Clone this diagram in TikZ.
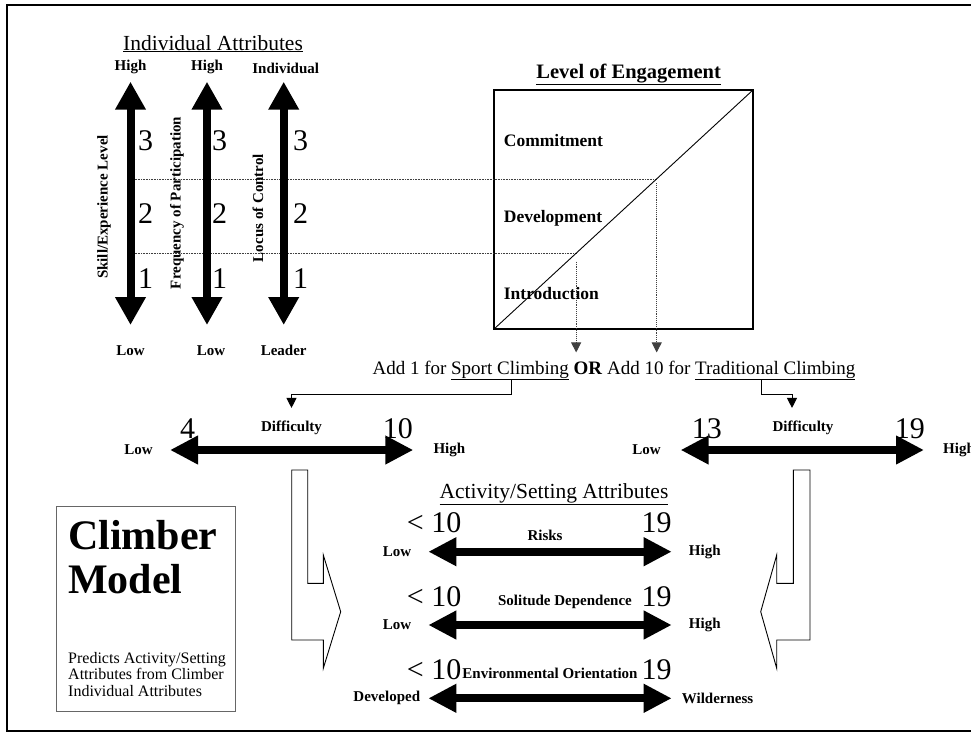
\documentclass[tikz,border=0pt]{standalone}
\usepackage{fontspec}
\setmainfont{Liberation Serif}
\usetikzlibrary{arrows.meta,positioning,calc}

\begin{document}
\begin{tikzpicture}[x=1pt, y=-1pt,
		every node/.style={inner sep=0pt},
		title/.style={
			font=\fontsize{21.5}{24}\selectfont,
			anchor=base},
		lbl/.style={
			font=\fontsize{15}{17}\selectfont\bfseries},
		stage/.style={
			font=\fontsize{17.5}{20}\selectfont\bfseries,
			anchor=base west},
		num/.style={
			font=\fontsize{30}{32}\selectfont},
		scalearrow/.style={
			line width=8pt,
			>={Triangle[length=28pt,width=27pt]}, <->},
		vscale/.style={
			line width=8pt,
			>={Triangle[length=28pt,width=29pt]}, <->},
		guide/.style={
			densely dotted,
			line width=0.6pt,
			black!75},
		conn/.style={
			line width=0.9pt,
			>={Triangle[length=10pt,width=10pt]}, ->},
		hollow/.style={
			draw,
			line width=0.9pt,
			fill=white}]

		\useasboundingbox (0,0) rectangle (971,736);
		\draw [line width=1.5pt] (7,5) rectangle (990,731);

		% individual attributes
		\node (indattr) [title] at (213,50) {\underline{Individual Attributes}};

		\coordinate (skillT) at (130.5,81.7);
		\coordinate (skillB) at (130.5,325);
		\coordinate (freqT) at (207,81.7);
		\coordinate (freqB) at (207,325);
		\coordinate (locusT) at (283.7,81.7);
		\coordinate (locusB) at (283.7,325);

		\node (eng) [draw, line width=1.2pt, minimum width=259pt, minimum height=239pt] at (623.5,209.5) {};
		\coordinate (engHi) at ($(eng.south west)!0.6276!(eng.north east)$);
		\coordinate (engLo) at ($(eng.south west)!0.318!(eng.north east)$);

		\draw [guide] ($(skillT |- engHi)+(4,0)$) -- (engHi);
		\draw [guide] ($(skillT |- engLo)+(4,0)$) -- (engLo);

		\draw [vscale] (skillT) -- (skillB);
		\draw [vscale] (freqT) -- (freqB);
		\draw [vscale] (locusT) -- (locusB);

		\node (skillHi) [lbl, above=8pt of skillT] {High};
		\node (freqHi) [lbl, above=8pt of freqT] {High};
		\node (locusHi) [lbl, above=8pt of locusT, xshift=2pt] {Individual};
		\node (skillLo) [lbl, below=20pt of skillB] {Low};
		\node (freqLo) [lbl, below=20pt of freqB, xshift=4pt] {Low};
		\node (locusLo) [lbl, below=20pt of locusB] {Leader};

		\node (skill) [lbl, rotate=90] at (104,207) {Skill/Experience Level};
		\node (freq) [lbl, rotate=90] at (177,203) {Frequency of Participation};
		\node (locus) [lbl, rotate=90] at (258,208) {Locus of Control};

		\foreach \col/\x in {skill/138, freq/212, locus/293}
			\foreach \n/\y in {3/150, 2/223, 1/288}
				\node (\col\n) [num, anchor=base west] at (\x,\y) {\n};

		% level of engagement
		\node (engtitle) [font=\fontsize{20.5}{23}\selectfont\bfseries, anchor=base] at (628.7,78.6) {\underline{Level of Engagement}};
		\draw [line width=0.9pt] (eng.south west) -- (eng.north east);
		\node (commit) [stage] at (503.7,146) {Commitment};
		\node (develop) [stage] at (503.7,222.5) {Development};
		\node (intro) [stage] at (503.7,299.4) {Introduction};

		\node (add) [font=\fontsize{19}{21}\selectfont, anchor=base] at (614,374) {Add 1 for \underline{Sport Climbing} \textbf{OR} Add 10 for \underline{Traditional Climbing}};

		\draw [guide, conn] ($(engLo)+(0,8.5)$) -- ($(engLo |- add.north)+(0,-8)$);
		\draw [guide, conn] ($(engHi)+(0,4.5)$) -- ($(engHi |- add.north)+(0,-8)$);

		% difficulty
		\coordinate (dLa) at (170,450);
		\coordinate (dLb) at (413.3,450);
		\coordinate (dRa) at (680.6,450);
		\coordinate (dRb) at (924,450);
		\draw [scalearrow] (dLa) -- (dLb);
		\draw [scalearrow] (dRa) -- (dRb);

		\node (diffL) [lbl, anchor=base] at (291.5,431.7) {Difficulty};
		\node (dLmin) [num, anchor=base west] at (180,438.3) {4};
		\node (dLmax) [num, anchor=base east] at (413,438.3) {10};
		\node (dLlow) [lbl, left=17pt of dLa] {Low};
		\node (dLhigh) [lbl, right=20pt of dLb] {High};

		\node (diffR) [lbl, anchor=base] at (803,431.7) {Difficulty};
		\node (dRmin) [num, anchor=base west] at (691.7,438.3) {13};
		\node (dRmax) [num, anchor=base east] at (925,438.3) {19};
		\node (dRlow) [lbl, left=19.6pt of dRa] {Low};
		\node (dRhigh) [lbl, right=19pt of dRb] {High};

		\draw [conn] ([xshift=-103pt]add.south) -- ++(0,14) -| ([yshift=13pt]diffL.north);
		\draw [conn] ([xshift=147pt]add.south) -- ++(0,14) -| ([xshift=-11pt,yshift=13pt]diffR.north);

		% hollow arrows
		\draw [hollow] (291.7,470) -- (307.7,470) -- (307.7,583.3) -- (323.3,583.3) -- (323.3,555)
			-- (340.7,611.7) -- (323.3,668.3) -- (323.3,640) -- (291.7,640) -- cycle;
		\draw [hollow] (793.3,470) -- (810,470) -- (810,640) -- (776.7,640) -- (776.7,668.3)
			-- (760.7,611.7) -- (776.7,555) -- (776.7,583.3) -- (793.3,583.3) -- cycle;

		% activity/setting attributes
		\node (actattr) [title] at (554,498) {\underline{Activity/Setting Attributes}};

		\coordinate (rka) at (428.3,551.7);
		\coordinate (rkb) at (671.7,551.7);
		\coordinate (sda) at (428.3,625);
		\coordinate (sdb) at (671.7,625);
		\coordinate (eoa) at (428.3,698.3);
		\coordinate (eob) at (671.7,698.3);
		\draw [scalearrow] (rka) -- (rkb);
		\draw [scalearrow] (sda) -- (sdb);
		\draw [scalearrow] (eoa) -- (eob);

		\node (rk) [lbl, anchor=base] at (545,540.7) {Risks};
		\node (rkmin) [num, anchor=base west] at (406.7,532.7) {< 10};
		\node (rkmax) [num, anchor=base east] at (671.7,532.7) {19};
		\node (rklow) [lbl, left=17pt of rka] {Low};
		\node (rkhigh) [lbl, right=17pt of rkb] {High};

		\node (sd) [lbl, anchor=base] at (565,605) {Solitude Dependence};
		\node (sdmin) [num, anchor=base west] at (406.7,606) {< 10};
		\node (sdmax) [num, anchor=base east] at (671.7,606) {19};
		\node (sdlow) [lbl, left=17pt of sda] {Low};
		\node (sdhigh) [lbl, right=17pt of sdb] {High};

		\node (eo) [lbl, anchor=base] at (550,678.3) {Environmental Orientation};
		\node (eomin) [num, anchor=base west] at (406.7,679.3) {< 10};
		\node (eomax) [num, anchor=base east] at (671.7,679.3) {19};
		\node (eolow) [lbl, left=8pt of eoa] {Developed};
		\node (eohigh) [lbl, right=10pt of eob] {Wilderness};

		% climber model box
		\node (cmbox) [draw=black!60, line width=0.8pt, minimum width=179pt, minimum height=205pt] at (145.5,608.5) {};
		\node (cmtitle) [font=\fontsize{42}{44}\selectfont\bfseries, align=left, anchor=base west] at (68,593) {Climber\\Model};
		\node (cmnote) [font=\fontsize{16}{16.5}\selectfont, align=left, anchor=base west] at (68,696.3) {Predicts Activity/Setting\\Attributes from Climber\\Individual Attributes};
	\end{tikzpicture}
\end{document}
